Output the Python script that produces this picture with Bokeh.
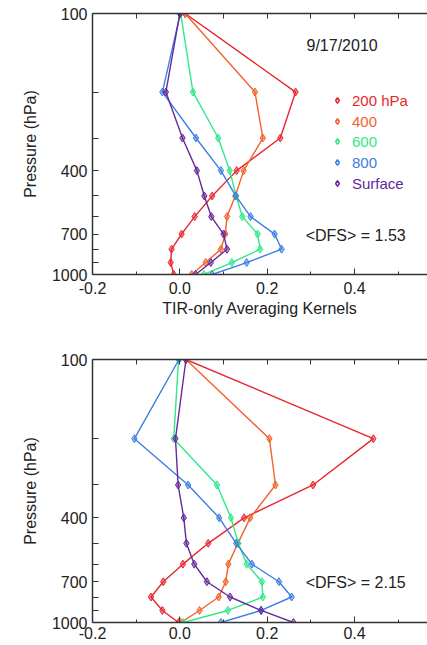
from bokeh.plotting import figure
from bokeh.models import (Legend, LegendItem, Label, FixedTicker, LinearAxis, Range1d)
from bokeh.layouts import column
from bokeh.embed import file_html
from bokeh.resources import INLINE

levels = [100, 200, 300, 400, 500, 600, 700, 800, 900, 1000]
y_labeled = [100, 400, 700, 1000]
y_unlabeled = [200, 300, 500, 600, 800, 900]
x_ticks = [-0.2, 0.0, 0.2, 0.4]
x_tick_labels = {-0.2: "-0.2", 0.0: "0.0", 0.2: "0.2", 0.4: "0.4"}
x_minor = [-0.1, 0.1, 0.3, 0.5]

names = ["200 hPa", "400", "600", "800", "Surface"]
colors = ["#e8262e", "#f2622a", "#2fe88a", "#3a7ee6", "#66299a"]

# TIR-only averaging kernels (top panel)
top_200 = [0.012, 0.265, 0.230, 0.130, 0.074, 0.034, 0.004, -0.019, -0.021, -0.014]
top_400 = [0.012, 0.172, 0.190, 0.146, 0.127, 0.108, 0.104, 0.094, 0.059, 0.027]
top_600 = [0.002, 0.030, 0.088, 0.114, 0.129, 0.143, 0.178, 0.184, 0.119, 0.055]
top_800 = [0.001, -0.040, 0.037, 0.094, 0.128, 0.162, 0.217, 0.233, 0.153, 0.074]
top_sfc = [0.000, -0.032, 0.006, 0.039, 0.056, 0.072, 0.100, 0.108, 0.071, 0.036]

# bottom panel
bot_200 = [0.014, 0.443, 0.305, 0.147, 0.065, 0.007, -0.038, -0.066, -0.040, -0.003]
bot_400 = [0.014, 0.205, 0.219, 0.161, 0.133, 0.111, 0.105, 0.089, 0.045, 0.002]
bot_600 = [-0.003, -0.014, 0.085, 0.117, 0.134, 0.153, 0.188, 0.190, 0.110, 0.008]
bot_800 = [-0.002, -0.104, 0.019, 0.090, 0.129, 0.165, 0.227, 0.256, 0.186, 0.094]
bot_sfc = [0.014, -0.010, -0.004, 0.009, 0.015, 0.033, 0.062, 0.115, 0.186, 0.260]

FONT = "Liberation Sans"
TXT = "#222222"
AX = "#333333"


def make_panel(series, frame_h, top, bottom, xlabel, dfs, x_standoff,
               date=None, legend=False):
    p = figure(frame_width=335, frame_height=frame_h, y_axis_type="log",
               x_range=Range1d(-0.2, 0.567), y_range=Range1d(1000, 100),
               output_backend="svg", toolbar_location=None,
               min_border_left=92, min_border_right=0,
               min_border_top=top, min_border_bottom=bottom)
    p.outline_line_color = None
    p.grid.visible = False
    p.background_fill_color = "white"
    p.border_fill_color = "white"

    # y axis
    ya = p.yaxis[0]
    ya.ticker = FixedTicker(ticks=y_labeled, minor_ticks=y_unlabeled)
    ya.major_label_overrides = {v: str(v) for v in y_labeled}
    ya.major_tick_in = 6
    ya.major_tick_out = 0
    ya.minor_tick_in = 6
    ya.minor_tick_out = 0
    ya.major_label_standoff = 5
    ya.axis_label = "Pressure (hPa)"
    ya.axis_label_standoff = 10
    ya.axis_label_text_font = FONT
    ya.axis_label_text_font_size = "16px"
    ya.axis_label_text_font_style = "normal"
    ya.axis_label_text_color = TXT
    ya.major_label_text_font = FONT
    ya.major_label_text_font_size = "16px"
    ya.major_label_text_color = TXT
    ya.axis_line_color = AX
    ya.major_tick_line_color = AX
    ya.minor_tick_line_color = AX
    ya.axis_line_width = 1.5

    # x axis
    xa = p.xaxis[0]
    xa.ticker = FixedTicker(ticks=x_ticks, minor_ticks=x_minor)
    xa.major_label_overrides = x_tick_labels
    xa.major_tick_in = 6
    xa.major_tick_out = 0
    xa.minor_tick_in = 3
    xa.minor_tick_out = 0
    xa.major_label_standoff = x_standoff
    xa.major_label_text_font = FONT
    xa.major_label_text_font_size = "16px"
    xa.major_label_text_color = TXT
    xa.axis_line_color = AX
    xa.major_tick_line_color = AX
    xa.minor_tick_line_color = AX
    xa.axis_line_width = 1.5
    if xlabel:
        xa.axis_label = xlabel
        xa.axis_label_standoff = 3
        xa.axis_label_text_font = FONT
        xa.axis_label_text_font_size = "16px"
        xa.axis_label_text_font_style = "normal"
        xa.axis_label_text_color = TXT

    # top frame edge with inward ticks (no labels)
    ta = LinearAxis(ticker=FixedTicker(ticks=[], minor_ticks=x_ticks + x_minor),
                    major_label_standoff=0, major_tick_in=0, major_tick_out=0,
                    minor_tick_in=5, minor_tick_out=0,
                    axis_line_color=AX, axis_line_width=1.5,
                    minor_tick_line_color=AX)
    p.add_layout(ta, "above")

    legend_renderers = []
    for vals, c in zip(series, colors):
        p.line(vals, levels, line_color=c, line_width=1.4)
        p.scatter(vals, levels, marker="diamond", size=8, line_color=c,
                  fill_color=c, fill_alpha=0.55, line_width=1)
        hollow = p.scatter(vals, levels, marker="diamond", size=12, fill_color=None,
                           line_color=c, line_width=1.5, visible=False)
        legend_renderers.append(hollow)

    if legend:
        row_bottoms = [165, 144, 124, 103, 82]
        for name, c, yb, r in zip(names, colors, row_bottoms, legend_renderers):
            lg = Legend(items=[LegendItem(label=name, renderers=[r], index=0)],
                        location=(238, yb), margin=0, padding=0, spacing=0,
                        glyph_width=14, glyph_height=18, label_height=18,
                        label_standoff=8, border_line_color=None,
                        background_fill_alpha=0, label_text_color=c,
                        label_text_font=FONT, label_text_font_size="15px")
            p.add_layout(lg)

    if date:
        p.add_layout(Label(x=0.29, y=133, text=date, text_baseline="middle",
                           text_font=FONT, text_font_size="16px", text_color=TXT))
    p.add_layout(Label(x=0.288, y=707, text=dfs, text_baseline="middle",
                       text_font=FONT, text_font_size="16px", text_color=TXT))
    return p


p1 = make_panel([top_200, top_400, top_600, top_800, top_sfc], 261, 13, 56,
                "TIR-only Averaging Kernels", "<DFS> = 1.53", 7,
                date="9/17/2010", legend=True)
p2 = make_panel([bot_200, bot_400, bot_600, bot_800, bot_sfc], 263, 29, 23,
                None, "<DFS> = 2.15", 4)

layout = column(p1, p2, spacing=0)
open("out.html", "w").write(file_html(layout, INLINE))
